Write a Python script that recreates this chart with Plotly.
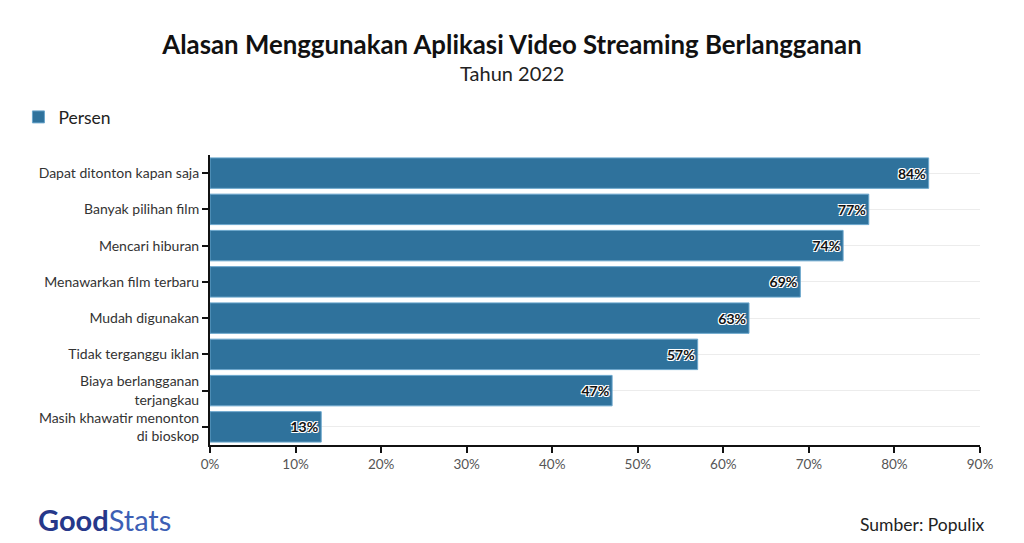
import plotly.graph_objects as go

categories = [
    "Dapat ditonton kapan saja",
    "Banyak pilihan film",
    "Mencari hiburan",
    "Menawarkan film terbaru",
    "Mudah digunakan",
    "Tidak terganggu iklan",
    "Biaya berlangganan<br>terjangkau",
    "Masih khawatir menonton<br>di bioskop",
]
persen = [84, 77, 74, 69, 63, 57, 47, 13]
x_ticks = [0, 10, 20, 30, 40, 50, 60, 70, 80, 90]
x_tick_labels = [f"{v}%" for v in x_ticks]

FONT = "Lato"

fig = go.Figure()
fig.add_trace(go.Bar(
    y=categories,
    x=persen,
    orientation="h",
    name="Persen",
    marker=dict(color="#2f729c", line=dict(color="#6aa6cc", width=1)),
    text=[f"{v}%" for v in persen],
    textposition="inside",
    insidetextanchor="end",
    textangle=0,
    textfont=dict(family=FONT, size=14, color="#111111", weight="bold",
                  shadow="-1px -1px 0 #fff, 1px -1px 0 #fff, -1px 1px 0 #fff, 1px 1px 0 #fff"),
    cliponaxis=False,
))

fig.update_layout(
    width=1024, height=543,
    paper_bgcolor="white", plot_bgcolor="white",
    font=dict(family=FONT, color="#333333"),
    margin=dict(l=210, r=44, t=155, b=98),
    bargap=0.16,
    title=dict(
        text="<b>Alasan Menggunakan Aplikasi Video Streaming Berlangganan</b>",
        x=0.5, xanchor="center", xref="container",
        y=1 - 45/543, yanchor="middle", yref="container",
        font=dict(family=FONT, size=25.8, color="#111111"),
    ),
    showlegend=True,
    legend=dict(
        orientation="h", xref="container", yref="container",
        x=0.018, xanchor="left", y=1 - 117/543, yanchor="middle",
        font=dict(family=FONT, size=17.5, color="#222222"),
        itemwidth=30,
    ),
    xaxis=dict(
        range=[0, 90], tickvals=x_ticks, ticktext=x_tick_labels,
        showgrid=False, zeroline=False,
        showline=True, linecolor="#111111", linewidth=2,
        ticks="outside", tickcolor="#111111", ticklen=6, tickwidth=1.5,
        tickfont=dict(family=FONT, size=13.5, color="#555555"),
    ),
    yaxis=dict(
        autorange="reversed",
        showgrid=True, gridcolor="#ececec", gridwidth=1,
        showline=True, linecolor="#111111", linewidth=2,
        ticks="outside", tickcolor="#111111", ticklen=6, tickwidth=1.5,
        tickfont=dict(family=FONT, size=14, color="#333333"),
    ),
    annotations=[
        dict(text="Tahun 2022", xref="paper", yref="paper",
             x=0.5, xanchor="center", y=1 + (155 - 73) / 290, yanchor="middle",
             xshift=(512 - 595), showarrow=False,
             font=dict(family=FONT, size=20, color="#222222")),
        dict(text="Sumber: Populix", xref="paper", yref="paper",
             x=1.0, xanchor="right", y=-(524 - 445) / 290, yanchor="middle",
             showarrow=False, font=dict(family=FONT, size=17.5, color="#222222"),
             xshift=7),
        dict(text="<b>Good</b><span style='color:#3d5fb5'>Stats</span>",
             xref="paper", yref="paper",
             x=0, xanchor="left", y=-(519 - 445) / 290, yanchor="middle", xshift=-174,
             showarrow=False, font=dict(family=FONT, size=29, color="#26388a")),
    ],
)

fig.write_html("out.html", config={"displayModeBar": False},
               post_script="document.body.style.margin='0';")
